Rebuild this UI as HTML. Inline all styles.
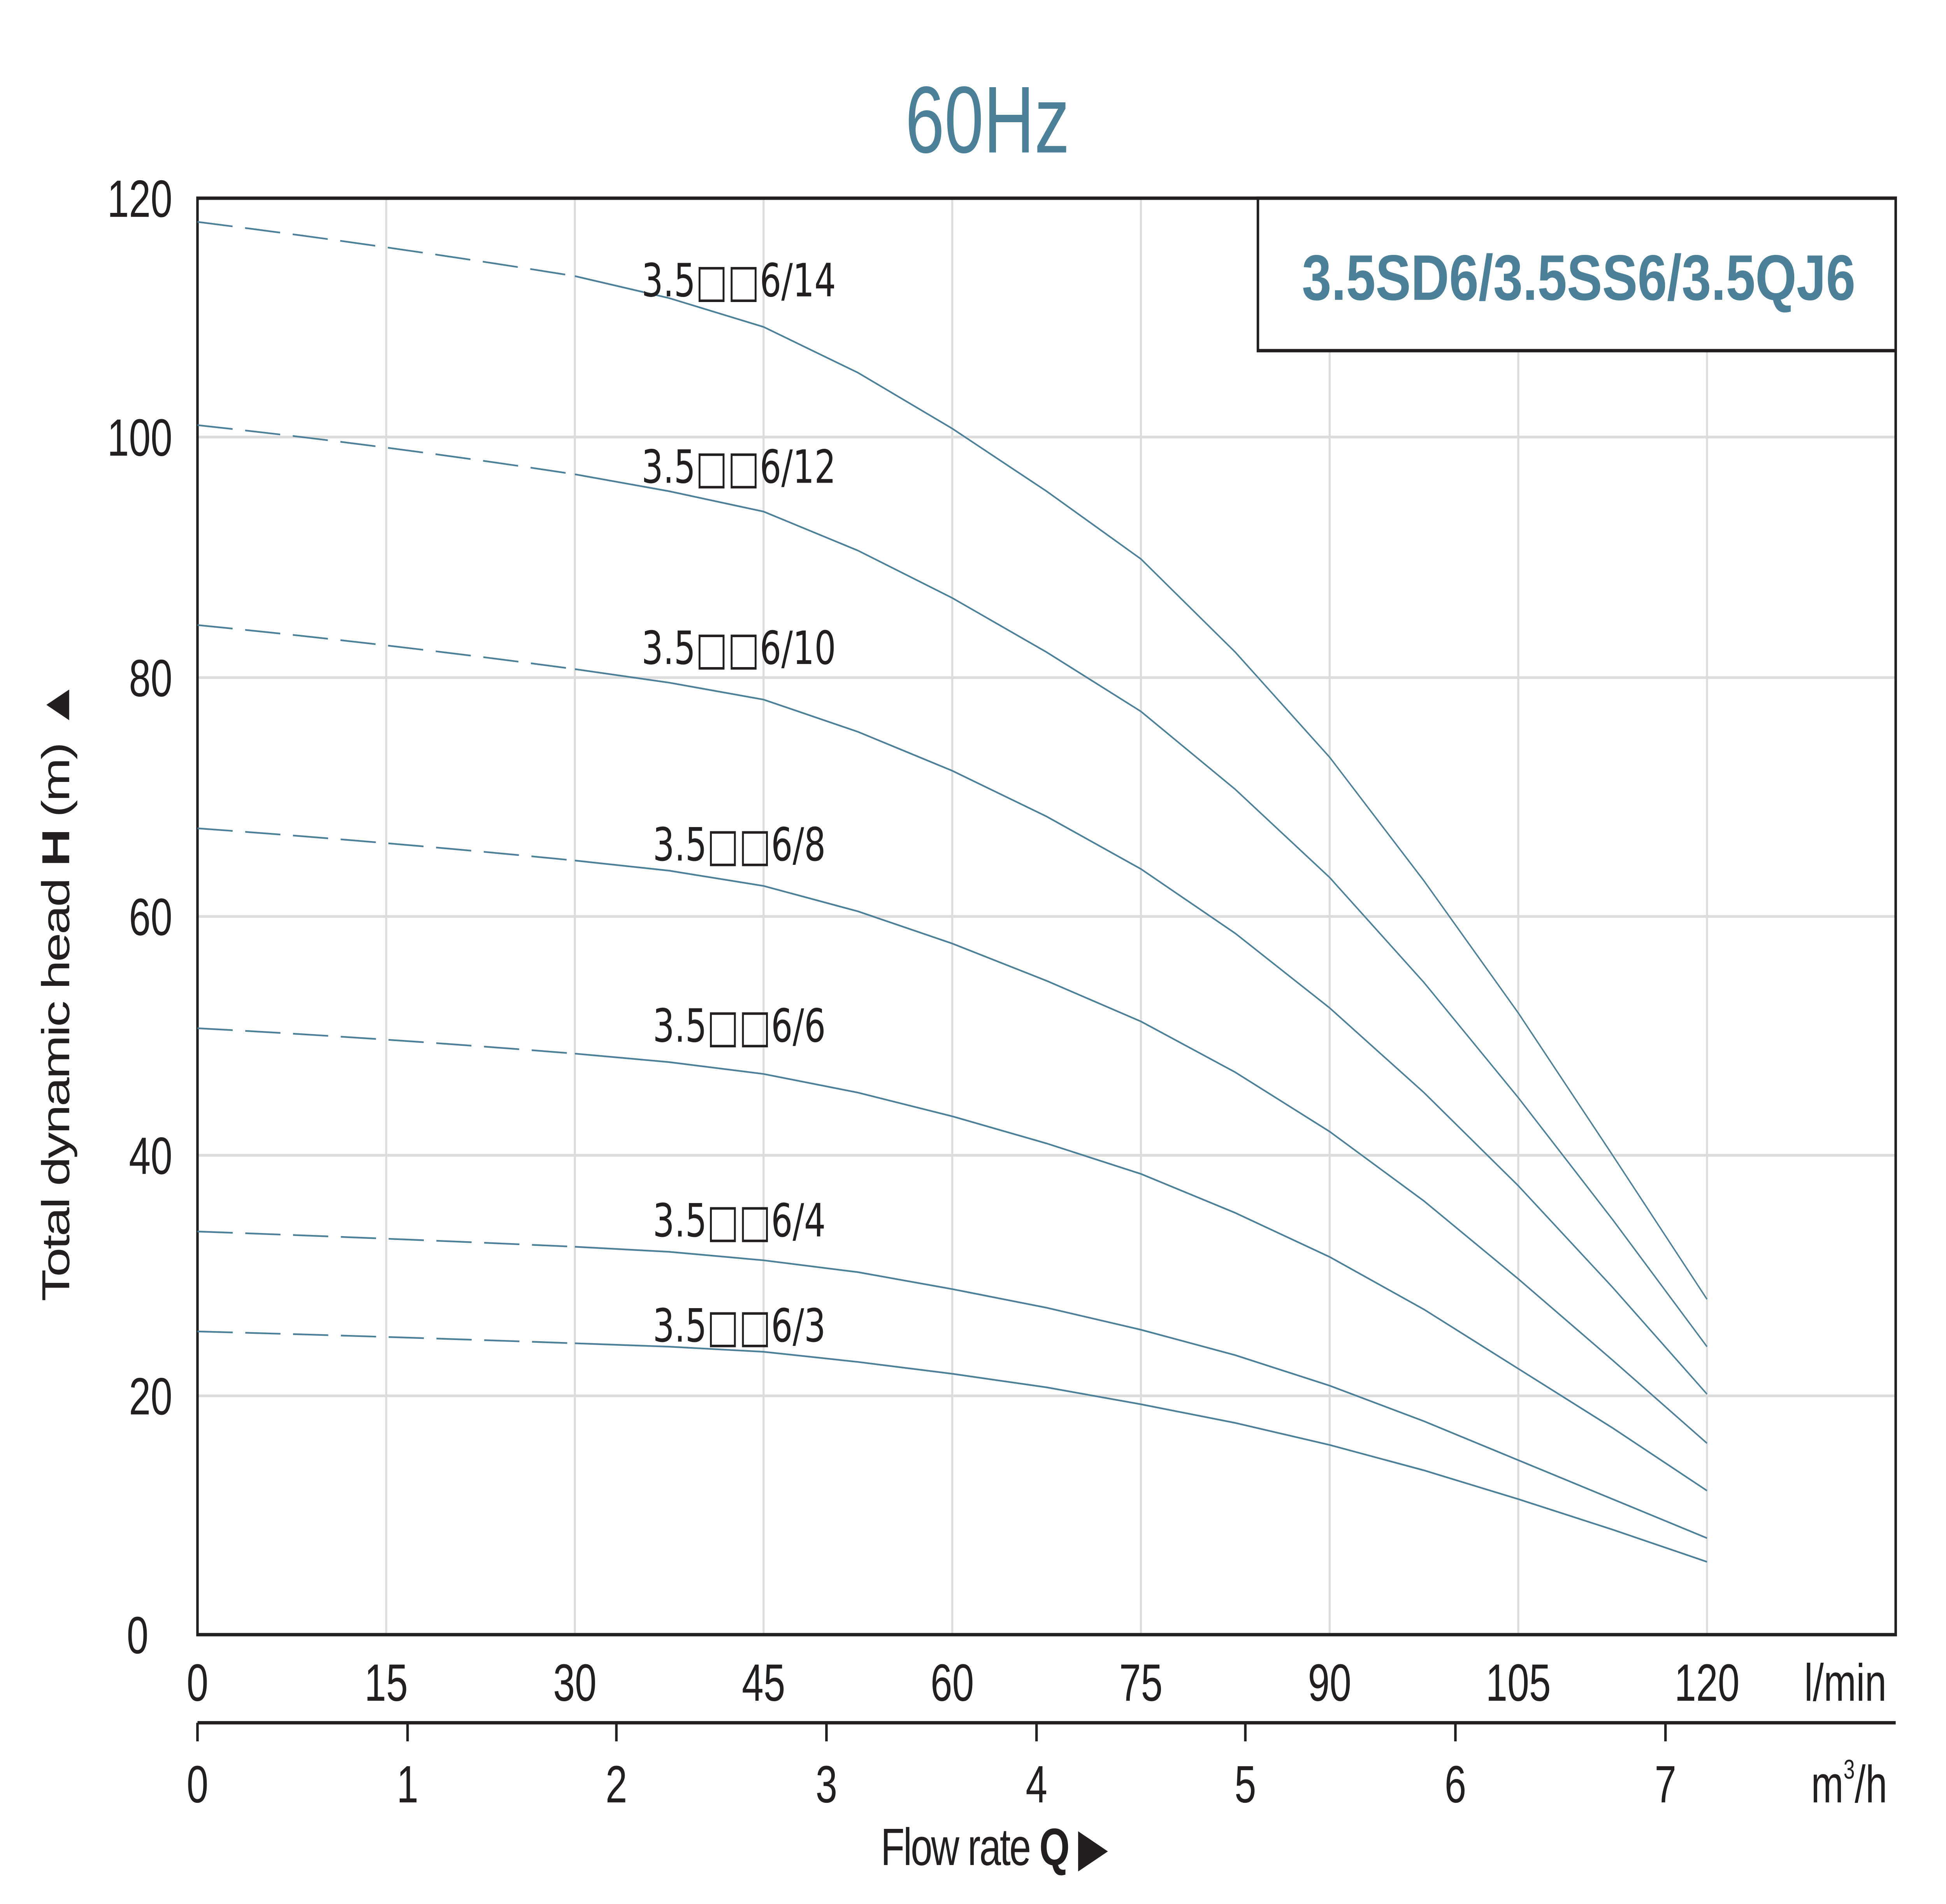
<!DOCTYPE html>
<html><head><meta charset="utf-8"><style>
html,body{margin:0;padding:0;background:#fff;width:100%;height:100%;overflow:hidden}
svg{display:block;position:absolute;left:0;top:0;width:100vw;height:100vh}
</style></head><body>
<svg xmlns="http://www.w3.org/2000/svg" viewBox="0 0 1547 1124" preserveAspectRatio="none">
<rect width="1547" height="1124" fill="#fff"/>
<text x="785" y="90" font-family="Liberation Sans, sans-serif" font-size="56" fill="#4c8099" text-anchor="middle">60Hz</text>
<g stroke="#dcdcdc" stroke-width="1.6">
<line x1="307" y1="117" x2="307" y2="965"/><line x1="457" y1="117" x2="457" y2="965"/>
<line x1="607" y1="117" x2="607" y2="965"/><line x1="757" y1="117" x2="757" y2="965"/>
<line x1="907" y1="117" x2="907" y2="965"/><line x1="1057" y1="207" x2="1057" y2="965"/>
<line x1="1207" y1="207" x2="1207" y2="965"/><line x1="1357" y1="207" x2="1357" y2="965"/>
<line x1="157" y1="258" x2="1507" y2="258"/><line x1="157" y1="400" x2="1507" y2="400"/>
<line x1="157" y1="541" x2="1507" y2="541"/><line x1="157" y1="682" x2="1507" y2="682"/>
<line x1="157" y1="824" x2="1507" y2="824"/>
</g>
<rect x="157" y="117" width="1350" height="848" fill="none" stroke="#231f20" stroke-width="2"/>
<rect x="1000" y="117" width="507" height="90" fill="#fff" stroke="#231f20" stroke-width="2"/>
<text x="1255" y="177" font-family="Liberation Sans, sans-serif" font-weight="bold" font-size="38" fill="#4c8099" text-anchor="middle" textLength="440" lengthAdjust="spacingAndGlyphs">3.5SD6/3.5SS6/3.5QJ6</text>
<g fill="none" stroke="#4c8099" stroke-width="1">
<g stroke-dasharray="28,10">
<path d="M157,131 Q307,145 457,163"/><path d="M157,251 Q307,263 457,280"/>
<path d="M157,369 Q307,380 457,395"/><path d="M157,489 Q307,497 457,508"/>
<path d="M157,607 Q307,613 457,622"/><path d="M157,727 Q307,731 457,736"/>
<path d="M157,786 Q307,789 457,793"/>
</g>
<polyline points="457,163 532,176 607,193 682,220 757,253 832,290 907,330 982,385 1057,447 1132,520 1207,598 1282,682 1357,767"/>
<polyline points="457,280 532,290 607,302 682,325 757,353 832,385 907,420 982,466 1057,518 1132,580 1207,648 1282,720 1357,795"/>
<polyline points="457,395 532,403 607,413 682,432 757,455 832,482 907,513 982,551 1057,595 1132,645 1207,700 1282,760 1357,823"/>
<polyline points="457,508 532,514 607,523 682,538 757,557 832,579 907,603 982,633 1057,668 1132,709 1207,755 1282,803 1357,852"/>
<polyline points="457,622 532,627 607,634 682,645 757,659 832,675 907,693 982,716 1057,742 1132,773 1207,808 1282,843 1357,880"/>
<polyline points="457,736 532,739 607,744 682,751 757,761 832,772 907,785 982,800 1057,818 1132,839 1207,862 1282,885 1357,908"/>
<polyline points="457,793 532,795 607,798 682,804 757,811 832,819 907,829 982,840 1057,853 1132,868 1207,885 1282,903 1357,922"/>
</g>
<g font-family="DejaVu Sans, Liberation Sans, sans-serif" font-size="27" fill="#231f20">
<text x="510" y="175">3.5□□6/14</text>
<text x="510" y="285">3.5□□6/12</text>
<text x="510" y="392">3.5□□6/10</text>
<text x="519" y="508">3.5□□6/8</text>
<text x="519" y="615">3.5□□6/6</text>
<text x="519" y="730">3.5□□6/4</text>
<text x="519" y="792">3.5□□6/3</text>
</g>
<g font-family="Liberation Sans, sans-serif" font-size="31" fill="#231f20" text-anchor="end">
<text x="137" y="128">120</text><text x="137" y="269">100</text><text x="137" y="411">80</text>
<text x="137" y="552">60</text><text x="137" y="693">40</text><text x="137" y="835">20</text>
<text x="118" y="976">0</text>
</g>
<g font-family="Liberation Sans, sans-serif" font-size="31" fill="#231f20" text-anchor="middle">
<text x="157" y="1004">0</text><text x="307" y="1004">15</text><text x="457" y="1004">30</text>
<text x="607" y="1004">45</text><text x="757" y="1004">60</text><text x="907" y="1004">75</text>
<text x="1057" y="1004">90</text><text x="1207" y="1004">105</text><text x="1357" y="1004">120</text>
<text x="1467" y="1004">l/min</text>
<text x="157" y="1064">0</text><text x="324" y="1064">1</text><text x="490" y="1064">2</text>
<text x="657" y="1064">3</text><text x="824" y="1064">4</text><text x="990" y="1064">5</text>
<text x="1157" y="1064">6</text><text x="1324" y="1064">7</text>
<text x="1470" y="1064">m<tspan font-size="16" dy="-14">3</tspan><tspan dy="14">/h</tspan></text>
</g>
<g stroke="#231f20" stroke-width="2">
<line x1="157" y1="1017" x2="1507" y2="1017"/>
<line x1="157" y1="1017" x2="157" y2="1028"/><line x1="324" y1="1017" x2="324" y2="1028"/>
<line x1="490" y1="1017" x2="490" y2="1028"/><line x1="657" y1="1017" x2="657" y2="1028"/>
<line x1="824" y1="1017" x2="824" y2="1028"/><line x1="990" y1="1017" x2="990" y2="1028"/>
<line x1="1157" y1="1017" x2="1157" y2="1028"/><line x1="1324" y1="1017" x2="1324" y2="1028"/>
</g>
<text x="790" y="1101" font-family="Liberation Sans, sans-serif" font-size="31" fill="#231f20" text-anchor="middle" letter-spacing="-1">Flow rate <tspan font-weight="bold">Q</tspan> ▶</text>
<text transform="translate(55,585) rotate(-90)" font-family="Liberation Sans, sans-serif" font-size="31" fill="#231f20" text-anchor="middle" letter-spacing="-1">Total dynamic head <tspan font-weight="bold">H</tspan> (m) ▲</text>
</svg>
</body></html>
